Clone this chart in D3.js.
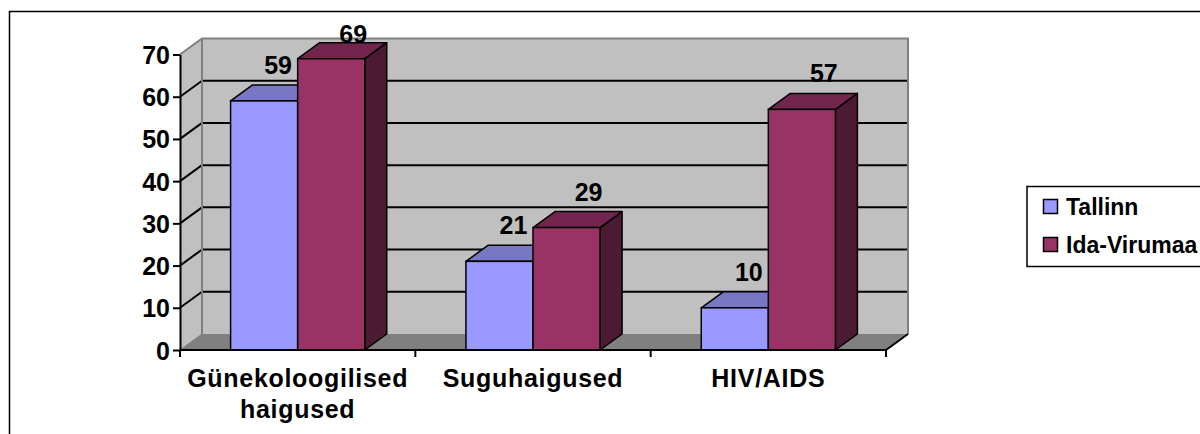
<!DOCTYPE html>
<html>
<head>
<meta charset="utf-8">
<script src="https://cdn.jsdelivr.net/npm/d3@7/dist/d3.min.js"></script>
<style>
  html, body { margin: 0; padding: 0; background: #fff; }
  svg { display: block; font-family: "Liberation Sans", Arial, sans-serif; font-weight: bold; }
</style>
</head>
<body>
<svg id="chart" width="1200" height="434"></svg>
<script>
// ---- data ----
const categories = ["Günekoloogilised haigused", "Suguhaigused", "HIV/AIDS"];
const seriesNames = ["Tallinn", "Ida-Virumaa"];
const tallinnValues = [59, 21, 10];
const idaVirumaaValues = [69, 29, 57];
const yTicks = [0, 10, 20, 30, 40, 50, 60, 70];

const seriesValues = [tallinnValues, idaVirumaaValues];
const faceColors = [
  { front: "#9999FF", top: "#7777C4", side: "#5C5C99" },
  { front: "#993366", top: "#73264D", side: "#4D1A33" }
];

// ---- layout ----
const svg = d3.select("#chart");
const x0 = 180, x1 = 886, yBase = 350, yTop = 54.5;
const DX = 22, DY = -16;
const FONT = "'Liberation Sans', Arial, sans-serif";

const x = d3.scaleBand().domain(categories).range([x0, x1]).paddingInner(0).paddingOuter(0);
const xs = d3.scaleBand().domain(seriesNames)
  .range([x.bandwidth() * 0.215, x.bandwidth() * 0.785]).paddingInner(0).paddingOuter(0);
const y = d3.scaleLinear().domain([0, 70]).range([yBase, yTop]);

// outer frame
svg.append("rect").attr("x", 9.5).attr("y", 11.5).attr("width", 1400).attr("height", 600)
  .attr("fill", "none").attr("stroke", "#000").attr("stroke-width", 1.5);

const g = svg.append("g");

// left side wall
g.append("polygon")
  .attr("points", [[x0, y(0)], [x0, y(70)], [x0 + DX, y(70) + DY], [x0 + DX, y(0) + DY]].join(" "))
  .attr("fill", "#C0C0C0");
// back wall
g.append("polygon")
  .attr("points", [[x0 + DX, y(0) + DY], [x0 + DX, y(70) + DY], [x1 + DX, y(70) + DY], [x1 + DX, y(0) + DY]].join(" "))
  .attr("fill", "#C0C0C0");
// floor
g.append("polygon")
  .attr("points", [[x0, y(0)], [x1, y(0)], [x1 + DX, y(0) + DY], [x0 + DX, y(0) + DY]].join(" "))
  .attr("fill", "#808080");

// gridlines
const inner = yTicks.filter(v => v > 0 && v < 70);
g.selectAll(".gridH").data(inner).enter().append("line")
  .attr("x1", x0 + DX).attr("x2", x1 + DX)
  .attr("y1", d => y(d) + DY).attr("y2", d => y(d) + DY)
  .attr("stroke", "#000").attr("stroke-width", 2);
g.selectAll(".gridD").data(inner).enter().append("line")
  .attr("x1", x0).attr("x2", x0 + DX)
  .attr("y1", d => y(d)).attr("y2", d => y(d) + DY)
  .attr("stroke", "#000").attr("stroke-width", 2);

// wall edges (gray)
const edge = "#808080";
g.append("polyline")
  .attr("points", [[x0, y(70)], [x0 + DX, y(70) + DY], [x1 + DX, y(70) + DY], [x1 + DX, y(0) + DY]].join(" "))
  .attr("fill", "none").attr("stroke", edge).attr("stroke-width", 2);
g.append("line").attr("x1", x0 + DX).attr("x2", x0 + DX).attr("y1", y(70) + DY).attr("y2", y(0) + DY)
  .attr("stroke", edge).attr("stroke-width", 2);
g.append("line").attr("x1", x0).attr("x2", x0 + DX).attr("y1", y(0)).attr("y2", y(0) + DY)
  .attr("stroke", edge).attr("stroke-width", 1);

// bars
categories.forEach((cat, ci) => {
  seriesNames.forEach((s, si) => {
    const v = seriesValues[si][ci];
    const bx = x(cat) + xs(s), bw = xs.bandwidth();
    const by = y(v), bb = y(0);
    const c = faceColors[si];
    const bg = g.append("g");
    bg.append("polygon")
      .attr("points", [[bx + bw, by], [bx + bw + DX, by + DY], [bx + bw + DX, bb + DY], [bx + bw, bb]].join(" "))
      .attr("fill", c.side).attr("stroke", "#000").attr("stroke-width", 1.5).attr("stroke-linejoin", "round");
    bg.append("polygon")
      .attr("points", [[bx, by], [bx + DX, by + DY], [bx + bw + DX, by + DY], [bx + bw, by]].join(" "))
      .attr("fill", c.top).attr("stroke", "#000").attr("stroke-width", 1.5).attr("stroke-linejoin", "round");
    bg.append("rect").attr("x", bx).attr("y", by).attr("width", bw).attr("height", bb - by)
      .attr("fill", c.front).attr("stroke", "#000").attr("stroke-width", 1.5);
  });
});

// floor right edge
g.append("line").attr("x1", x1).attr("x2", x1 + DX).attr("y1", y(0)).attr("y2", y(0) + DY)
  .attr("stroke", "#000").attr("stroke-width", 2);

// y axis
const yAxis = d3.axisLeft(y).tickValues(yTicks).tickSize(7).tickSizeOuter(0).tickPadding(3);
const ya = svg.append("g").attr("transform", `translate(${x0},0)`).call(yAxis);
ya.select(".domain").attr("stroke", "#000").attr("stroke-width", 2);
ya.selectAll(".tick line").attr("stroke", "#000").attr("stroke-width", 2);
ya.selectAll(".tick text").attr("font-size", 25).attr("font-weight", "bold")
  .attr("font-family", FONT).attr("fill", "#000").attr("dy", "0.36em");

// x axis line
svg.append("line").attr("x1", x0).attr("x2", x1).attr("y1", yBase).attr("y2", yBase)
  .attr("stroke", "#000").attr("stroke-width", 2);
// category boundary ticks
const bounds = categories.map(c => x(c)).concat([x1]);
svg.selectAll(".xtick").data(bounds).enter().append("line")
  .attr("x1", d => d).attr("x2", d => d).attr("y1", yBase).attr("y2", yBase + 7)
  .attr("stroke", "#000").attr("stroke-width", 2);
// category labels via axis
const xAxis = d3.axisBottom(x).tickSize(0).tickSizeOuter(0).tickPadding(0).tickFormat("");
const xa = svg.append("g").attr("transform", `translate(0,${yBase})`).call(xAxis);
xa.select(".domain").remove();
xa.selectAll(".tick").each(function(d) {
  const words = d.length > 14 ? d.split(" ") : [d];
  const t = d3.select(this).append("text")
    .attr("text-anchor", "middle").attr("font-size", 25).attr("font-weight", "bold")
    .attr("letter-spacing", "0.7px")
    .attr("font-family", FONT).attr("fill", "#000");
  words.forEach((w, i) => t.append("tspan").attr("x", 0).attr("y", 37 + i * 31).text(w));
});

// data labels
const labelDx = [14, 22];
categories.forEach((cat, ci) => {
  seriesNames.forEach((s, si) => {
    const v = seriesValues[si][ci];
    const cx = x(cat) + xs(s) + xs.bandwidth() / 2 + labelDx[si];
    const ty = Math.max(y(v) - 27, 43);
    svg.append("text").attr("x", cx).attr("y", ty).attr("text-anchor", "middle")
      .attr("font-size", 25).attr("fill", "#000").text(v);
  });
});

// legend
const lg = svg.append("g");
lg.append("rect").attr("x", 1027).attr("y", 186.5).attr("width", 400).attr("height", 80)
  .attr("fill", "#fff").attr("stroke", "#000").attr("stroke-width", 1.5);
seriesNames.forEach((s, i) => {
  lg.append("rect").attr("x", 1043.5).attr("y", 199.5 + i * 38).attr("width", 14).attr("height", 14)
    .attr("fill", faceColors[i].front).attr("stroke", "#000").attr("stroke-width", 1.5);
  lg.append("text").attr("x", 1066).attr("y", 215 + i * 37.5).attr("font-size", 23)
    .attr("fill", "#000").text(s);
});
</script>
</body>
</html>
